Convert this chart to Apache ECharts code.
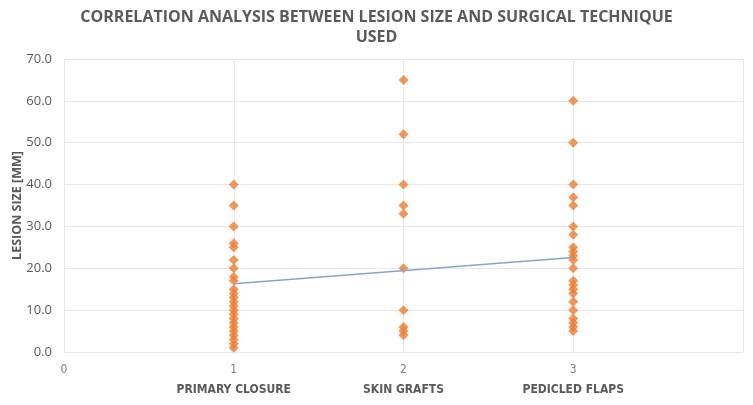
<!DOCTYPE html>
<html>
<head>
<meta charset="utf-8">
<script src="https://cdn.jsdelivr.net/npm/echarts@6/dist/echarts.min.js"></script>
<style>
html, body { margin: 0; padding: 0; background: #fff; }
#chart { width: 753px; height: 405px; }
</style>
</head>
<body>
<div id="chart"></div>
<script>
// categories on the x axis (x = 1, 2, 3)
var techniques = ['PRIMARY CLOSURE', 'SKIN GRAFTS', 'PEDICLED FLAPS'];

// lesion sizes (mm)
var primaryClosure = [40, 35, 30, 26, 25, 22, 20, 18, 17, 15, 14, 13, 12, 11, 10, 9, 8, 7, 6, 5, 4, 3, 2, 1];
var skinGrafts = [65, 52, 40, 35, 33, 20, 10, 6, 5, 4];
var pedicledFlaps = [60, 50, 40, 37, 35, 30, 28, 25, 24, 23, 22, 20, 17, 16, 15, 14, 12, 10, 8, 7, 6, 5];

// linear trend line end points
var trendX = [1, 3];
var trendY = [16.3, 22.6];

var yTicks = [0, 10, 20, 30, 40, 50, 60, 70];

var groups = [primaryClosure, skinGrafts, pedicledFlaps];
var points = [];
for (var g = 0; g < groups.length; g++) {
    for (var i = 0; i < groups[g].length; i++) {
        points.push([g + 1, groups[g][i]]);
    }
}
var trend = [];
for (var t = 0; t < trendX.length; t++) {
    trend.push([trendX[t], trendY[t]]);
}

var myChart = echarts.init(document.getElementById('chart'));
var option = {
    animation: false,
    backgroundColor: '#ffffff',
    title: {
        text: 'CORRELATION ANALYSIS BETWEEN LESION SIZE AND SURGICAL TECHNIQUE\nUSED',
        left: 'center',
        top: 2,
        textStyle: {
            fontFamily: 'Open Sans',
            fontSize: 16,
            fontWeight: 'bold',
            color: '#5a5a5a',
            lineHeight: 20
        }
    },
    grid: {
        left: 64,
        right: 10,
        top: 59,
        bottom: 53,
        outerBoundsMode: 'none'
    },
    xAxis: {
        type: 'value',
        min: 0,
        max: 4,
        interval: 1,
        axisLine: { show: false },
        axisTick: { show: false },
        splitLine: { show: true, lineStyle: { color: '#e8e8e8', width: 1 } },
        axisLabel: {
            margin: 9,
            formatter: function (v) {
                if (v === 0) return '{num|0}';
                if (v >= 1 && v <= 3) return '{num|' + v + '}\n{cat|' + techniques[v - 1] + '}';
                return '';
            },
            rich: {
                num: {
                    fontFamily: 'DejaVu Sans Condensed',
                    fontSize: 12,
                    color: '#7f7f7f',
                    lineHeight: 18
                },
                cat: {
                    fontFamily: 'DejaVu Sans Condensed',
                    fontSize: 12,
                    fontWeight: 'bold',
                    color: '#5a5a5a',
                    lineHeight: 22
                }
            }
        }
    },
    yAxis: {
        type: 'value',
        min: yTicks[0],
        max: yTicks[yTicks.length - 1],
        interval: 10,
        name: 'LESION SIZE [MM]',
        nameLocation: 'middle',
        nameGap: 40,
        nameMoveOverlap: false,
        nameTextStyle: {
            fontFamily: 'Open Sans',
            fontSize: 12.5,
            fontWeight: 'bold',
            color: '#5a5a5a'
        },
        axisLine: { show: false },
        axisTick: { show: false },
        splitLine: { lineStyle: { color: '#e8e8e8', width: 1 } },
        axisLabel: {
            margin: 12,
            fontFamily: 'Open Sans',
            fontSize: 13,
            color: '#5a5a5a',
            formatter: function (v) { return v.toFixed(1); }
        }
    },
    series: [
        {
            name: 'Lesion size',
            type: 'scatter',
            symbol: 'diamond',
            symbolSize: 10,
            itemStyle: { color: '#ED7D31' },
            data: points,
            z: 3
        },
        {
            name: 'Trend',
            type: 'line',
            data: trend,
            symbol: 'none',
            lineStyle: { color: '#8EA2C8', width: 1.5 },
            z: 4
        }
    ]
};
myChart.setOption(option);
</script>
</body>
</html>
